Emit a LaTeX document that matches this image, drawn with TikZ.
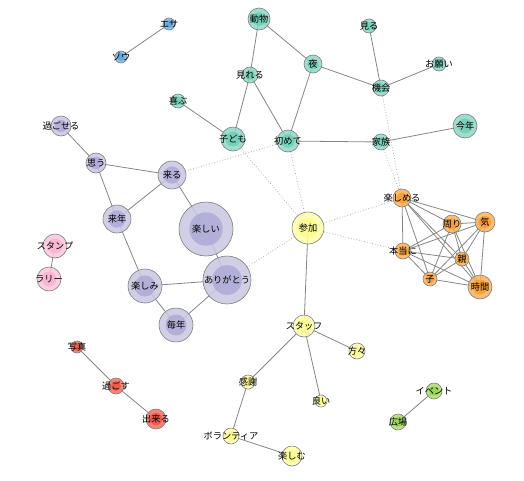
\documentclass[tikz,border=0pt]{standalone}
\usepackage{fontspec}
\setmainfont{Noto Sans CJK JP}
\usetikzlibrary{backgrounds}
\definecolor{tlO}{HTML}{8ED8C5}\definecolor{tlI}{HTML}{6FCDB5}
\definecolor{puO}{HTML}{C9C7E1}\definecolor{puI}{HTML}{ABA7D5}
\definecolor{blO}{HTML}{7FB6E0}\definecolor{blI}{HTML}{5EA2D6}
\definecolor{piO}{HTML}{FAC6DC}\definecolor{piI}{HTML}{F7B2D0}
\definecolor{yeO}{HTML}{FEFEAA}\definecolor{yeI}{HTML}{FBFB8C}
\definecolor{orO}{HTML}{FAB05A}\definecolor{orI}{HTML}{F79A33}
\definecolor{reO}{HTML}{F27063}\definecolor{reI}{HTML}{EE5243}
\definecolor{grO}{HTML}{AADD6E}\definecolor{grI}{HTML}{94D24C}
\definecolor{rimc}{HTML}{7E7E7E}
\definecolor{edgec}{HTML}{858585}
\tikzset{
  vert/.style={circle, draw=rimc, line width=0.6pt, inner sep=0pt, fill opacity=0.85},
  lab/.style={font=\fontsize{9.2}{10}\selectfont, text=black, inner sep=0pt},
  link/.style={draw=edgec, line width=0.8pt},
  weak/.style={draw=edgec!70, line width=0.75pt, dotted},
}
\begin{document}
\begin{tikzpicture}[x=1pt,y=1pt]
\useasboundingbox (0,0) rectangle (524,-480);
\foreach \nm/\x/\y/\r/\col/\txt in {
  esa/169/24/6/bl/エサ, zou/121/57/6/bl/ゾウ,
  doubutsu/259/19/11/tl/動物, mireru/250/75/8/tl/見れる, yoru/313/64/9/tl/夜,
  miru/369/26/7/tl/見る, onegai/439/64/7/tl/お願い, kikai/381/88/8/tl/機会,
  yorokobu/178/101/7/tl/喜ぶ, kodomo/233/139/12/tl/子ども, hajimete/288/141/11/tl/初めて,
  kazoku/381/142/8/tl/家族, kotoshi/465/126/12/tl/今年,
  sugoseru/61/126/10/pu/過ごせる, omou/96/163/10/pu/思う, kuru/172/175/14/pu/来る,
  tanoshii/206/229/27/pu/楽しい, rainen/117/219/14/pu/来年, tanoshimi/145/286/17/pu/楽しみ,
  arigatou/227/280/24/pu/ありがとう, maitoshi/176/325/17/pu/毎年,
  stamp/55/246/12/pi/スタンプ, rally/49/279/12/pi/ラリー,
  sanka/308/228/16/ye/参加, staff/304/326/11/ye/スタッフ, katagata/357/351/8/ye/方々,
  kansha/248/382/7/ye/感謝, yoi/321/401/6/ye/良い, volunteer/231/436/8/ye/ボランティア,
  tanoshimu/292/456/10/ye/楽しむ,
  tanoshimeru/402/198/9/or/楽しめる, mawari/452/224/9/or/周り, ki/485/222/10/or/気,
  hontou/403/251/8/or/本当に, oya/462/259/7/or/親, ko/430/279/7/or/子, jikan/480/287/12/or/時間,
  shashin/77/347/6/re/写真, sugosu/116/386/8/re/過ごす, dekiru/156/419/10/re/出来る,
  event/434/391/8/gr/イベント, hiroba/398/422/8/gr/広場}
{
  \node[vert, fill=\col O, minimum size=2*\r pt] (\nm) at (\x,-\y) {};
  \fill[\col I, fill opacity=0.8] (\nm.center) circle ({0.62*\r});
  \node[lab] at (\nm.center) {\txt};
}
\begin{scope}[on background layer]
\foreach \a/\b in {esa/zou, doubutsu/mireru, doubutsu/yoru, mireru/kodomo, mireru/hajimete,
  yoru/hajimete, yoru/kikai, miru/kikai, onegai/kikai, yorokobu/kodomo, hajimete/kazoku,
  kazoku/kotoshi, sugoseru/omou, omou/kuru, omou/rainen, kuru/rainen, kuru/tanoshii,
  tanoshii/arigatou, rainen/tanoshimi, tanoshimi/arigatou, tanoshimi/maitoshi,
  maitoshi/arigatou, stamp/rally, sanka/staff, staff/katagata, staff/yoi, staff/kansha,
  kansha/volunteer, volunteer/tanoshimu, shashin/sugosu, sugosu/dekiru, event/hiroba,
  tanoshimeru/mawari, tanoshimeru/ki, tanoshimeru/hontou, tanoshimeru/oya, tanoshimeru/ko,
  tanoshimeru/jikan, mawari/ki, mawari/hontou, mawari/oya, mawari/ko, mawari/jikan,
  ki/hontou, ki/oya, ki/ko, ki/jikan, hontou/oya, hontou/ko, hontou/jikan,
  oya/ko, oya/jikan, ko/jikan}
  \draw[link] (\a.center) -- (\b.center);
\foreach \a/\b in {kuru/hajimete, kodomo/sanka, hajimete/sanka, sanka/tanoshimeru,
  sanka/hontou, sanka/arigatou, kikai/tanoshimeru, kazoku/tanoshimeru}
  \draw[weak] (\a.center) -- (\b.center);
\end{scope}
\end{tikzpicture}
\end{document}
